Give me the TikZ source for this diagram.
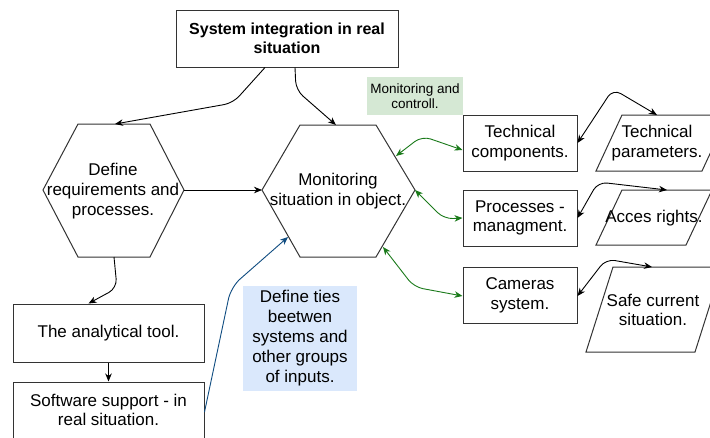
\documentclass[tikz,border=0pt]{standalone}
\usepackage{fontspec}
\setmainfont{Liberation Sans}
\usetikzlibrary{arrows.meta}
\definecolor{lgreen}{HTML}{D5E8D4}
\definecolor{lblue}{HTML}{DAE8FC}
\definecolor{dgreen}{HTML}{1A7A1A}
\definecolor{dblue}{HTML}{0F4C81}
\definecolor{edge}{HTML}{333333}
\newcommand\fsA{\fontsize{17}{19.8}\selectfont}
\newcommand\fsB{\fontsize{13.5}{15}\selectfont}
\begin{document}
\begin{tikzpicture}[x=1pt,y=-1pt,
  box/.style={draw=edge, line width=1pt, fill=white, align=center, font=\fsA, inner sep=0pt},
  shp/.style={draw=edge, line width=1pt, fill=white},
  txt/.style={align=center, font=\fsA, inner sep=0pt},
  arr/.style={line width=0.9pt, rounded corners=9pt, draw=black},
  darr/.style={arr, {Stealth[length=8pt,width=6.5pt,inset=2.5pt]}-{Stealth[length=8pt,width=6.5pt,inset=2.5pt]}},
  sarr/.style={arr, -{Stealth[length=8pt,width=6.5pt,inset=2.5pt]}}
]
\useasboundingbox (0,0) rectangle (710,437);
\clip (0,0) rectangle (710,437);
\fill[white] (0,0) rectangle (710,437);

% title
\node[box, minimum width=222pt, minimum height=57pt, font=\fontsize{16}{19.5}\selectfont\bfseries] (title) at (287,38.5) {System integration in real\\situation};

% hexagon 1
\draw[shp] (78,124) -- (150,124) -- (184,190) coordinate (h1r) -- (150,257) -- (78,257) -- (43,190) -- cycle;
\node[txt] (hexA) at (113,191) {Define\\requirements and\\processes.};
\coordinate (h1top) at (115,124);
\coordinate (h1bot) at (114,257);

% hexagon 2
\draw[shp] (300,125) -- (376,125) -- (415,190) coordinate (h2r) -- (376,257) -- (300,257) -- (262,190) coordinate (h2l) -- cycle;
\node[txt] (hexB) at (338,191) {Monitoring\\situation in object.};
\coordinate (h2top) at (336,125);
\coordinate (h2ne) at (396,156);
\coordinate (h2se) at (383,247);
\coordinate (h2sw) at (288,237);

% green label
\node[fill=lgreen, minimum width=96pt, minimum height=38pt, align=center, font=\fsB, inner sep=0pt] (glab) at (415,96) {Monitoring and\\controll.};

% middle boxes
\node[box, minimum width=114pt, minimum height=56pt] (tc) at (520,143) {Technical\\components.};
\node[box, minimum width=114pt, minimum height=56pt] (pm) at (520,218) {Processes -\\managment.};
\node[box, minimum width=114pt, minimum height=56pt] (cs) at (520,295) {Cameras\\system.};

% parallelograms
\draw[shp] (622,115) -- (728,115) -- (702,171) -- (596,171) -- cycle;
\node[txt] (tp) at (657,143) {Technical\\parameters.};
\draw[shp] (622,190) -- (712,190) -- (686,245) -- (596,245) -- cycle;
\node[txt] (ar) at (654,218) {Acces rights.};
\draw[shp] (613,267) -- (722,267) -- (695,352) -- (586,352) -- cycle;
\node[txt] (sc) at (653,310) {Safe current\\situation.};
\coordinate (p1top) at (657,115);
\coordinate (p2top) at (667,190);
\coordinate (p3top) at (652,267);

% blue label
\node[fill=lblue, minimum width=114pt, minimum height=105pt, align=center, font=\fontsize{17}{20}\selectfont, inner sep=0pt] (blab) at (300,338.5) {Define ties\\beetwen\\systems and\\other groups\\of inputs.};

% left boxes
\node[box, minimum width=191pt, minimum height=58pt] (at) at (108.5,333) {The analytical tool.};
\node[box, minimum width=191pt, minimum height=58pt] (ss) at (108.5,411) {};
\node[txt] (sstxt) at (108.5,410) {Software support - in\\real situation.};

% connectors
\draw[sarr] ([xshift=-22pt]title.south) -- (233,103) -- (h1top);
\draw[sarr] ([xshift=8pt]title.south) -- (296,90) -- (h2top);
\draw[sarr] (h1r) -- (h2l);
\draw[sarr] (h1bot) -- (117,288) -- ([xshift=-20pt]at.north);
\draw[sarr] (at.south) -- (ss.north);
\draw[sarr, draw=dblue, color=dblue, rounded corners=12pt] ([yshift=-1pt]ss.east) -- (231,287) -- (h2sw);

\draw[darr, draw=dgreen, color=dgreen] (h2ne) -- (422,136) -- ([yshift=-7pt]tc.west);
\draw[darr, draw=dgreen, color=dgreen] (h2r) -- (444,219) -- (pm.west);
\draw[darr, draw=dgreen, color=dgreen] (h2se) -- (414,287) -- ([yshift=-1pt]cs.west);

\draw[darr] (tc.east) -- (613,89) -- (p1top);
\draw[darr] (pm.east) -- (598,182) -- (p2top);
\draw[darr] ([yshift=-1pt]cs.east) -- (606,259) -- (p3top);
\end{tikzpicture}
\end{document}
